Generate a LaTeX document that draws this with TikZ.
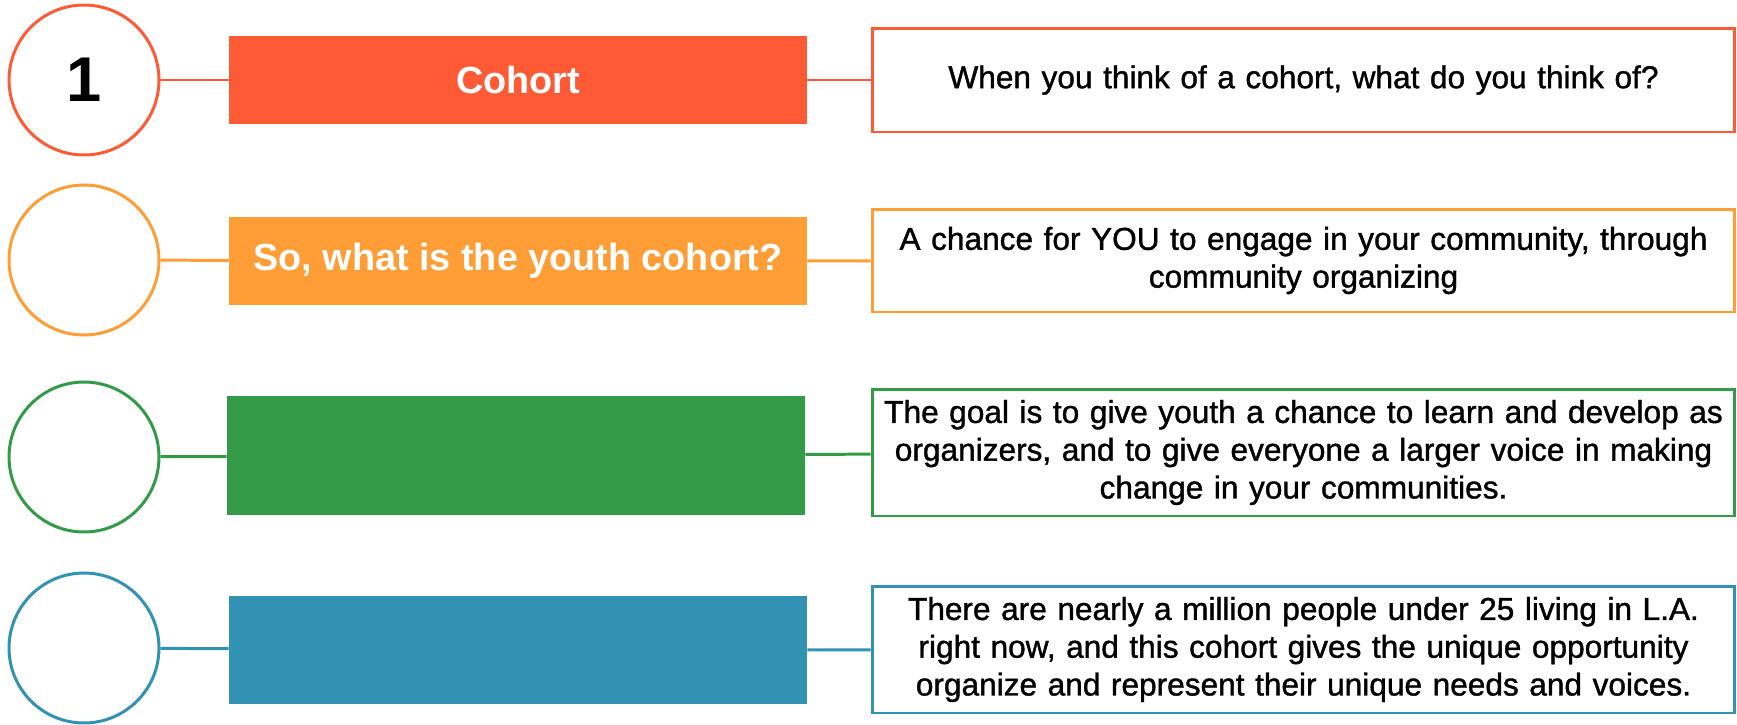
\documentclass[tikz,border=0pt]{standalone}
\usepackage{fontspec}
\setmainfont{Liberation Sans}
\newfontfamily\medfont{Liberation Sans}[FakeBold=1.2]
\usepackage{tikz}
\usetikzlibrary{positioning}
\usepackage{xcolor}
\definecolor{cohortRed}{RGB}{255, 90, 54}
\definecolor{youthOrange}{RGB}{255, 157, 54}
\definecolor{goalGreen}{RGB}{51, 155, 72}
\definecolor{laBlue}{RGB}{49, 146, 179}

\begin{document}
\begin{tikzpicture}[
    x=0.02cm, y=-0.02cm,
    every node/.style={font=\fontsize{18}{21.5}\selectfont},
    num/.style={circle, draw=#1, fill=white, minimum size=3cm, inner sep=0pt, line width=1.7pt, font=\fontsize{36}{40}\selectfont\bfseries},
    topic/.style={rectangle, fill=#1, minimum width=11.56cm, inner sep=0pt, text=white, font=\fontsize{21.5}{25}\selectfont\bfseries},
    detail/.style={rectangle, draw=#1, fill=white, minimum width=17.26cm, inner sep=0pt, line width=1.7pt, align=center, text width=16.9cm, font=\fontsize{18}{21.5}\selectfont\medfont},
    link/.style={draw=#1, line width=1.7pt},
]
\useasboundingbox (0,0) rectangle (1737,724);
\node[num=cohortRed] (C1) at (84, 80) {1};
\node[num=youthOrange] (C2) at (84, 260) {};
\node[num=goalGreen] (C3) at (84, 457) {};
\node[num=laBlue] (C4) at (84, 648) {};
\node[topic=cohortRed, minimum height=1.76cm] (T1) at (518, 80) {Cohort};
\node[topic=youthOrange, minimum height=1.76cm] (T2) at (518, 261) {So, what is the youth cohort?};
\node[topic=goalGreen, minimum height=2.38cm] (T3) at (516, 455.5) {};
\node[topic=laBlue, minimum height=2.16cm] (T4) at (518, 650) {};
\node[detail=cohortRed, minimum height=2.08cm] (D1) at (1303.5, 80) {When you think of a cohort, what do you think of?};
\node[detail=youthOrange, minimum height=2.06cm] (D2) at (1303.5, 260.5) {A chance for YOU to engage in your community, through\\ community organizing};
\node[detail=goalGreen, minimum height=2.54cm] (D3) at (1303.5, 452.5) {The goal is to give youth a chance to learn and develop as\\ organizers, and to give everyone a larger voice in making\\ change in your communities.};
\node[detail=laBlue, minimum height=2.54cm] (D4) at (1303.5, 649.5) {There are nearly a million people under 25 living in L.A.\\ right now, and this cohort gives the unique opportunity\\ organize and represent their unique needs and voices.};
\draw[link=cohortRed] (C1) -- (T1); \draw[link=cohortRed] (T1) -- (D1);
\draw[link=youthOrange] (C2) -- (T2); \draw[link=youthOrange] (T2) -- (D2);
\draw[link=goalGreen] (C3) -- (T3); \draw[link=goalGreen] (T3) -- (D3);
\draw[link=laBlue] (C4) -- (T4); \draw[link=laBlue] (T4) -- (D4);
\end{tikzpicture}
\end{document}
